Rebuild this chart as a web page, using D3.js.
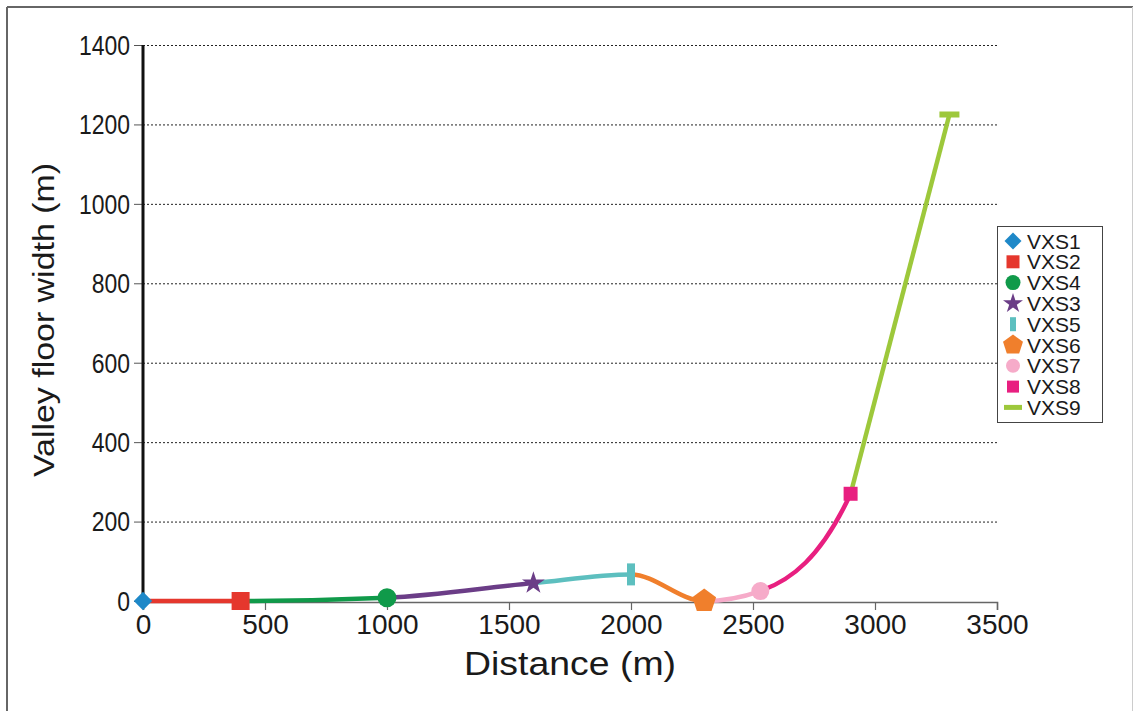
<!DOCTYPE html>
<html>
<head>
<meta charset="utf-8">
<script src="https://cdn.jsdelivr.net/npm/d3@7"></script>
<style>
  html, body { margin: 0; padding: 0; background: #fff; }
  svg { display: block; font-family: "Liberation Sans", Arial, sans-serif; }
</style>
</head>
<body>
<svg id="chart" width="1134" height="711"></svg>
<script>
// ---- data ----
const seriesNames = ["VXS1", "VXS2", "VXS4", "VXS3", "VXS5", "VXS6", "VXS7", "VXS8", "VXS9"];
const distance    = [0, 400, 1000, 1600, 2000, 2300, 2530, 2900, 3305];
const floorWidth  = [0, 0, 8, 45, 67, 0, 25, 270, 1225];
const xTicks = [0, 500, 1000, 1500, 2000, 2500, 3000, 3500];
const yTicks = [0, 200, 400, 600, 800, 1000, 1200, 1400];

// ---- styles ----
const colors  = ["#1e88c8", "#e5372d", "#109a4a", "#6b3d87", "#5dbfbf", "#f07f2c", "#f6abc9", "#e81f80", "#9dc83b"];
const shapes  = ["diamond", "square", "circle", "star", "vbar", "pentagon", "circle", "square", "hbar"];
const mSize   = [13, 18, 19, 12, [8, 22], 12.5, 18, 14, [20, 6]];
const lSize   = [12, 13, 15, 10.5, [6, 14], 10.5, 14, 12, [18, 5]];

const svg = d3.select("#chart");

// frame
svg.append("line").attr("x1", 7).attr("y1", 7).attr("x2", 1133).attr("y2", 7).attr("stroke", "#666").attr("stroke-width", 2);
svg.append("line").attr("x1", 7).attr("y1", 7).attr("x2", 7).attr("y2", 711).attr("stroke", "#666").attr("stroke-width", 2);
svg.append("line").attr("x1", 1132.5).attr("y1", 7).attr("x2", 1132.5).attr("y2", 711).attr("stroke", "#ccc").attr("stroke-width", 1);

const x = d3.scaleLinear().domain([0, 3500]).range([143, 997]);
const y = d3.scaleLinear().domain([0, 1400]).range([601, 45]);

// grid
svg.append("g").selectAll("line").data(yTicks.filter(d => d > 0)).join("line")
  .attr("x1", x(0)).attr("x2", x(3500))
  .attr("y1", d => y(d) + 0.5).attr("y2", d => y(d) + 0.5)
  .attr("stroke", "#222").attr("stroke-width", 1).attr("stroke-dasharray", "2,2");

// y tick marks
svg.append("g").selectAll("line").data(yTicks).join("line")
  .attr("x1", x(0) - 9).attr("x2", x(0))
  .attr("y1", d => y(d) + 0.5).attr("y2", d => y(d) + 0.5)
  .attr("stroke", "#555").attr("stroke-width", 1);

// y tick labels (horizontally condensed)
svg.append("g").selectAll("text").data(yTicks).join("text")
  .attr("transform", d => `translate(130,${y(d)}) scale(0.82,1)`)
  .attr("text-anchor", "end").attr("dy", "0.35em")
  .attr("font-size", 28).attr("fill", "#1a1a1a")
  .text(d => d);

// x axis
const xAxis = d3.axisBottom(x).tickValues(xTicks).tickSize(8).tickFormat(d => d);
const gx = svg.append("g").attr("transform", `translate(0,${y(0) + 1})`).call(xAxis);
gx.select(".domain").attr("stroke", "#666").attr("stroke-width", 1.5);
gx.selectAll(".tick line").attr("stroke", "#666").attr("stroke-width", 1.2);
gx.selectAll(".tick text").attr("font-size", 28).attr("fill", "#1a1a1a")
  .attr("font-family", "'Liberation Sans', Arial, sans-serif").attr("y", 12).attr("dy", "0.71em");

// y axis line
svg.append("line").attr("x1", x(0)).attr("x2", x(0)).attr("y1", y(1400)).attr("y2", y(0) + 1)
  .attr("stroke", "#111").attr("stroke-width", 3);

// axis titles
svg.append("text").attr("x", 570).attr("y", 675).attr("text-anchor", "middle")
  .attr("font-size", 34).attr("fill", "#1a1a1a")
  .attr("textLength", 212).attr("lengthAdjust", "spacingAndGlyphs")
  .text("Distance (m)");
svg.append("text").attr("transform", "translate(54,320) rotate(-90)").attr("text-anchor", "middle")
  .attr("font-size", 29).attr("fill", "#1a1a1a")
  .attr("textLength", 314).attr("lengthAdjust", "spacingAndGlyphs")
  .text("Valley floor width (m)");

// ---- line: monotone curve through points, coloured per segment; last leg straight ----
const pts = distance.map((d, i) => [d, floorWidth[i]]);
const line = d3.line().x(d => x(d[0])).y(d => y(d[1])).curve(d3.curveMonotoneX);
const straight = d3.line().x(d => x(d[0])).y(d => y(d[1]));
const defs = svg.append("defs");
for (let i = 1; i < pts.length; i++) {
  if (i === pts.length - 1) {
    svg.append("path").attr("d", straight(pts.slice(i - 1, i + 1))).attr("fill", "none")
      .attr("stroke", colors[i]).attr("stroke-width", 4.5);
    continue;
  }
  defs.append("clipPath").attr("id", "seg" + i).append("rect")
    .attr("x", x(distance[i - 1])).attr("width", x(distance[i]) - x(distance[i - 1]))
    .attr("y", 0).attr("height", 711);
  svg.append("path").attr("d", line(pts)).attr("fill", "none")
    .attr("stroke", colors[i]).attr("stroke-width", 4.5).attr("stroke-linecap", "butt")
    .attr("clip-path", `url(#seg${i})`);
}

// ---- markers ----
function pentagon(r) {
  const p = d3.range(5).map(k => {
    const a = -Math.PI / 2 + k * 2 * Math.PI / 5;
    return [r * Math.cos(a), r * Math.sin(a)];
  });
  return "M" + p.map(q => q.join(",")).join("L") + "Z";
}
function drawMarker(g, shape, s, color) {
  if (shape === "diamond") {
    g.append("path").attr("d", d3.symbol(d3.symbolSquare, s * s)()).attr("transform", "rotate(45)").attr("fill", color);
  } else if (shape === "square") {
    g.append("path").attr("d", d3.symbol(d3.symbolSquare, s * s)()).attr("fill", color);
  } else if (shape === "circle") {
    g.append("path").attr("d", d3.symbol(d3.symbolCircle, Math.PI * s * s / 4)()).attr("fill", color);
  } else if (shape === "star") {
    g.append("path").attr("d", d3.symbol(d3.symbolStar, s * s / 0.8908130915292852)()).attr("fill", color);
  } else if (shape === "pentagon") {
    g.append("path").attr("d", pentagon(s)).attr("fill", color);
  } else if (shape === "vbar" || shape === "hbar") {
    g.append("rect").attr("x", -s[0] / 2).attr("y", -s[1] / 2).attr("width", s[0]).attr("height", s[1]).attr("fill", color);
  }
}
pts.forEach((p, i) => {
  const g = svg.append("g").attr("transform", `translate(${x(p[0])},${y(p[1])})`);
  drawMarker(g, shapes[i], mSize[i], colors[i]);
});

// ---- legend ----
const leg = svg.append("g");
leg.append("rect").attr("x", 997.5).attr("y", 226.5).attr("width", 105).attr("height", 196)
  .attr("fill", "#fff").attr("stroke", "#444").attr("stroke-width", 1);
seriesNames.forEach((name, i) => {
  const cy = 241 + i * 20.8;
  const g = leg.append("g").attr("transform", `translate(1013,${cy})`);
  drawMarker(g, shapes[i], lSize[i], colors[i]);
  leg.append("text").attr("x", 1027).attr("y", cy).attr("dy", "0.36em")
    .attr("font-size", 21).attr("fill", "#1a1a1a").text(name);
});
</script>
</body>
</html>
